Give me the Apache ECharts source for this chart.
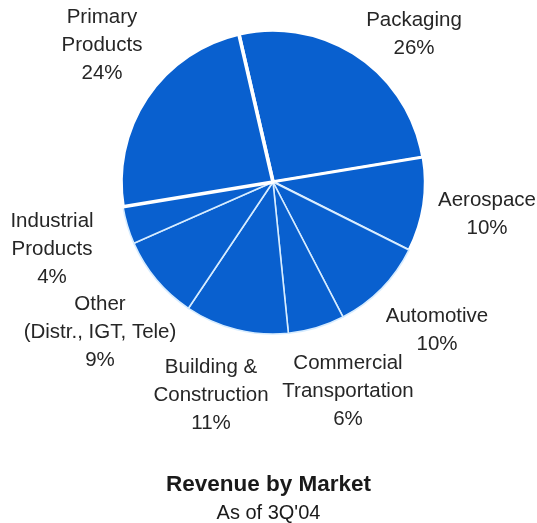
<!DOCTYPE html>
<html>
<head>
<meta charset="utf-8">
<title>Revenue by Market</title>
<script src="https://cdn.jsdelivr.net/npm/echarts@6/dist/echarts.min.js"></script>
<style>
  html, body { margin: 0; padding: 0; background: #ffffff; }
  #chart { width: 537px; height: 523px; }
</style>
</head>
<body>
<div id="chart"></div>
<script>
// Market segments, clockwise from the top
const markets = [
  'Packaging',
  'Aerospace',
  'Automotive',
  'Commercial\nTransportation',
  'Building &\nConstruction',
  'Other\n(Distr., IGT, Tele)',
  'Industrial\nProducts',
  'Primary\nProducts'
];
// Share of revenue, percent
const shares = [26, 10, 10, 6, 11, 9, 4, 24];

// Where each label block is centred (px)
const labelAnchors = [
  [414, 34], [487, 214], [437, 330], [348, 391],
  [211, 395], [100, 332], [52, 249], [102, 45]
];
// White rule widths: the largest segments are set off with wider rules
const ruleWidths = {
  'Packaging': 3.6,
  'Primary\nProducts': 3.6,
  'Aerospace': 2.6
};

const chart = echarts.init(document.getElementById('chart'), null, { renderer: 'canvas' });

chart.setOption({
  animation: false,
  backgroundColor: '#ffffff',
  title: {
    text: 'Revenue by Market',
    subtext: "As of 3Q'04",
    left: 'center',
    top: 468,
    itemGap: 7,
    textStyle: { fontFamily: 'Liberation Sans', fontSize: 22.5, fontWeight: 'bold', color: '#1a1a1a' },
    subtextStyle: { fontFamily: 'Liberation Sans', fontSize: 20, color: '#1a1a1a' }
  },
  series: [{
    type: 'pie',
    center: [273, 182],
    radius: [0, 152],
    startAngle: 103,
    clockwise: true,
    avoidLabelOverlap: false,
    itemStyle: { color: '#0960cf', borderColor: '#d6ecff', borderWidth: 1.6 },
    label: {
      show: true,
      position: 'outside',
      formatter: p => p.name + '\n' + p.value + '%',
      fontFamily: 'Liberation Sans',
      fontSize: 20.5,
      lineHeight: 28,
      color: '#262626',
      align: 'center'
    },
    labelLine: { show: false },
    labelLayout: params => {
      const a = labelAnchors[params.dataIndex];
      return { x: a[0], y: a[1], align: 'center', verticalAlign: 'middle' };
    },
    emphasis: { disabled: true },
    data: markets.map((name, i) => ({
      name: name,
      value: shares[i],
      itemStyle: ruleWidths[name] ? { borderColor: '#ffffff', borderWidth: ruleWidths[name] } : {}
    }))
  }]
});
</script>
</body>
</html>
